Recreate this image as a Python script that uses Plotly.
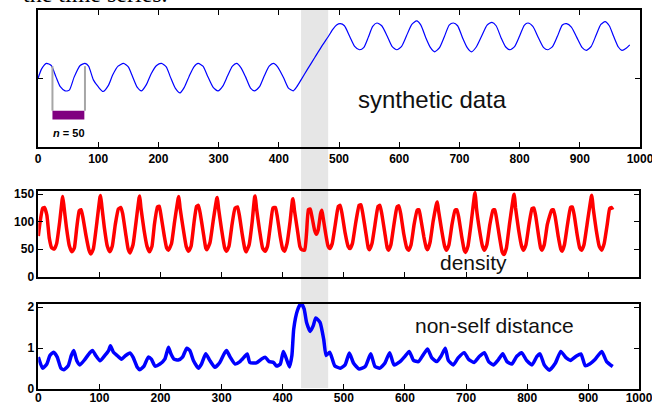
import plotly.graph_objects as go

# ---------------- data ----------------
syn_x = [0, 6, 14, 22, 30, 37, 45, 52, 60, 70, 78, 84, 92, 100, 108, 117, 124, 133, 142, 150,
         157, 165, 172, 180, 188, 197, 205, 213, 220, 228, 236, 243, 251, 259, 266, 274, 282, 291,
         299, 307, 315, 323, 330, 337, 345, 353, 360, 368, 376, 384, 391, 398, 408, 416, 424, 430,
         437, 448, 460, 472, 482, 490, 496, 502, 509, 518, 526, 534, 541, 549, 556, 563, 571, 580,
         588, 596, 604, 612, 621, 629, 636, 644, 652, 659, 667, 675, 683, 690, 697, 705, 713, 720,
         728, 737, 746, 754, 761, 769, 777, 784, 792, 800, 808, 814, 822, 831, 840, 847, 855, 863,
         871, 878, 886, 895, 904, 911, 919, 927, 935, 942, 949, 956, 964, 970, 977, 983]
syn_y = [0.00, 0.14, 0.22, 0.19, 0.02, -0.12, -0.18, -0.17, 0.02, 0.19, 0.22, 0.18, -0.02, -0.12,
         -0.19, -0.10, 0.05, 0.18, 0.22, 0.17, 0.03, -0.13, -0.18, -0.09, 0.07, 0.19, 0.22, 0.17,
         0.02, -0.14, -0.21, -0.13, 0.03, 0.17, 0.22, 0.18, 0.03, -0.13, -0.18, -0.11, 0.04, 0.18,
         0.22, 0.16, 0.02, -0.14, -0.18, -0.12, 0.04, 0.18, 0.22, 0.17, 0.01, -0.14, -0.18, -0.12,
         -0.02, 0.14, 0.31, 0.48, 0.61, 0.72, 0.78, 0.80, 0.77, 0.61, 0.47, 0.42, 0.45, 0.61, 0.76,
         0.81, 0.77, 0.62, 0.47, 0.42, 0.47, 0.62, 0.79, 0.84, 0.78, 0.60, 0.45, 0.39, 0.45, 0.61,
         0.78, 0.81, 0.77, 0.60, 0.45, 0.39, 0.46, 0.62, 0.78, 0.82, 0.77, 0.60, 0.46, 0.42, 0.47,
         0.62, 0.78, 0.81, 0.76, 0.60, 0.45, 0.42, 0.47, 0.62, 0.78, 0.80, 0.75, 0.60, 0.45, 0.41,
         0.47, 0.63, 0.79, 0.83, 0.77, 0.62, 0.46, 0.41, 0.44, 0.49]

den_x = [0, 3, 7, 10, 14, 18, 22, 26, 30, 35, 39, 40, 42, 46, 51, 55, 59, 63, 67, 70, 73, 78, 83,
         86, 90, 96, 101, 102, 104, 108, 113, 117, 121, 126, 131, 135, 138, 143, 147, 150, 155,
         160, 165, 166, 168, 173, 178, 182, 186, 190, 195, 198, 201, 206, 210, 213, 218, 223, 229,
         230, 232, 237, 242, 246, 250, 255, 259, 262, 265, 270, 274, 276, 281, 286, 292, 293, 295,
         300, 305, 308, 312, 317, 322, 326, 329, 334, 338, 340, 345, 350, 354, 355, 357, 362, 367,
         371, 375, 380, 384, 388, 391, 396, 400, 403, 407, 412, 416, 417, 419, 424, 428, 431, 436,
         439, 442, 445, 448, 452, 455, 458, 462, 464, 466, 470, 474, 477, 481, 486, 491, 494, 497,
         502, 507, 510, 514, 519, 525, 528, 531, 536, 540, 542, 546, 551, 556, 559, 562, 567, 571,
         573, 577, 582, 587, 590, 593, 598, 603, 606, 610, 615, 620, 623, 626, 631, 635, 637, 641,
         646, 652, 653, 655, 660, 665, 668, 672, 677, 682, 685, 688, 693, 697, 699, 703, 708, 714,
         715, 717, 722, 727, 730, 734, 739, 744, 747, 750, 755, 759, 762, 766, 771, 778, 779, 781,
         786, 791, 794, 798, 803, 808, 811, 814, 819, 822, 824, 828, 833, 840, 843, 846, 851, 855,
         857, 861, 866, 871, 874, 877, 882, 886, 889, 893, 898, 905, 906, 908, 913, 918, 922, 926,
         931, 935, 938, 940]
den_y = [74, 100, 124, 126, 112, 70, 52, 50, 60, 100, 140, 146, 128, 90, 55, 45, 52, 90, 120, 122,
         108, 75, 48, 41, 50, 100, 145, 148, 128, 90, 55, 45, 55, 95, 123, 126, 115, 78, 50, 43, 58,
         100, 144, 147, 125, 85, 55, 45, 55, 95, 127, 128, 110, 75, 52, 48, 60, 100, 143, 146, 125,
         88, 55, 46, 55, 100, 128, 130, 115, 80, 52, 49, 62, 100, 142, 144, 124, 85, 52, 46, 55, 95,
         125, 127, 112, 75, 50, 45, 58, 100, 145, 147, 125, 85, 52, 46, 55, 95, 125, 126, 110, 72,
         50, 46, 60, 100, 140, 142, 122, 85, 55, 49, 48, 80, 122, 123, 108, 85, 77, 85, 115, 121,
         108, 80, 56, 51, 60, 95, 128, 130, 115, 80, 55, 51, 60, 95, 130, 131, 115, 80, 52, 49, 60,
         95, 128, 130, 115, 80, 52, 48, 58, 95, 127, 129, 115, 78, 52, 48, 58, 95, 121, 122, 105,
         72, 52, 49, 62, 100, 134, 136, 120, 85, 55, 48, 58, 95, 121, 122, 108, 72, 48, 44, 55, 95,
         150, 153, 125, 85, 55, 48, 58, 95, 121, 122, 105, 70, 45, 40, 52, 95, 148, 150, 125, 85,
         55, 48, 58, 95, 124, 125, 110, 72, 52, 48, 58, 95, 121, 122, 108, 72, 50, 46, 58, 95, 126,
         127, 112, 75, 52, 48, 58, 95, 146, 148, 125, 85, 55, 48, 60, 95, 124, 126, 122]

dist_x = [0, 7, 14, 19, 25, 31, 37, 42, 49, 54, 58, 63, 68, 76, 85, 89, 94, 101, 109, 115, 118,
          123, 129, 136, 143, 150, 155, 162, 166, 173, 180, 185, 191, 199, 207, 213, 217, 222, 229,
          236, 243, 248, 254, 262, 267, 274, 281, 289, 297, 304, 308, 314, 322, 330, 338, 342, 346,
          357, 365, 371, 378, 385, 390, 396, 401, 405, 411, 415, 418, 424, 430, 435, 439, 445, 450,
          454, 461, 467, 471, 477, 485, 494, 502, 509, 516, 525, 535, 544, 551, 559, 567, 575, 582,
          592, 600, 607, 614, 622, 630, 637, 644, 652, 659, 666, 671, 679, 687, 697, 704, 713, 722,
          730, 737, 745, 753, 760, 767, 775, 783, 791, 799, 808, 816, 821, 828, 836, 846, 855, 864,
          871, 880, 888, 895, 903, 911, 922, 930, 940]
dist_y = [0.78, 0.51, 0.61, 0.82, 0.90, 0.78, 0.51, 0.47, 0.57, 0.82, 0.94, 0.69, 0.59, 0.72, 0.90,
          0.94, 0.82, 0.69, 0.82, 0.94, 1.06, 0.90, 0.82, 0.73, 0.82, 0.88, 0.78, 0.53, 0.47, 0.56,
          0.78, 0.73, 0.56, 0.61, 0.73, 1.02, 0.86, 0.73, 0.71, 0.78, 1.00, 0.94, 0.69, 0.51, 0.61,
          0.86, 0.69, 0.53, 0.65, 0.86, 0.94, 0.78, 0.61, 0.67, 0.80, 0.86, 0.65, 0.64, 0.73, 0.78,
          0.67, 0.65, 0.56, 0.61, 0.92, 0.78, 0.54, 0.82, 1.47, 1.92, 2.10, 1.96, 1.63, 1.41, 1.55,
          1.74, 1.63, 1.22, 0.82, 0.90, 0.57, 0.51, 0.59, 0.88, 0.63, 0.49, 0.55, 0.86, 0.55, 0.51,
          0.63, 0.89, 0.59, 0.67, 0.80, 0.92, 0.70, 0.67, 0.84, 0.98, 0.76, 0.67, 0.80, 1.00, 0.70,
          0.59, 0.76, 0.89, 0.73, 0.65, 0.80, 0.89, 0.67, 0.59, 0.72, 0.86, 0.67, 0.61, 0.80, 0.89,
          0.70, 0.59, 0.80, 0.86, 0.59, 0.46, 0.63, 0.92, 0.76, 0.70, 0.80, 0.86, 0.57, 0.62, 0.72,
          0.92, 0.67, 0.55]

x_ticks = [0, 100, 200, 300, 400, 500, 600, 700, 800, 900, 1000]
x_ticks_low = [0, 100, 200, 300, 400, 500, 600, 700, 800, 900, 983]
x_tick_text = ["0", "100", "200", "300", "400", "500", "600", "700", "800", "900", "1000"]
den_ticks = [0, 50, 100, 150]
dist_ticks = [0, 1, 2]
band = [437, 482]
window = [24, 78]

# ---------------- figure ----------------
W, H = 652, 404
FONT = "Liberation Sans, Arial, sans-serif"

def px(v):
    return v / W

def py(v):
    return 1 - v / H

fig = go.Figure()
fig.add_trace(go.Scatter(x=syn_x, y=syn_y, mode="lines", xaxis="x", yaxis="y",
                         line=dict(color="#0000ff", width=1.2, shape="spline", smoothing=0.6),
                         showlegend=False, hoverinfo="skip"))
fig.add_trace(go.Scatter(x=den_x, y=den_y, mode="lines", xaxis="x2", yaxis="y2",
                         line=dict(color="#ff0000", width=3.5, shape="spline", smoothing=0.4),
                         showlegend=False, hoverinfo="skip"))
fig.add_trace(go.Scatter(x=dist_x, y=dist_y, mode="lines", xaxis="x3", yaxis="y3",
                         line=dict(color="#0000ff", width=3.5, shape="spline", smoothing=0.5),
                         showlegend=False, hoverinfo="skip"))

tickfont = dict(family=FONT, size=12, color="black", weight="bold")
common_ax = dict(showline=True, linecolor="black", linewidth=1.5, ticks="inside", ticklen=5,
                 tickcolor="black", tickwidth=1, showgrid=False, zeroline=False,
                 tickfont=tickfont, automargin=False, ticklabeloverflow="allow")

fig.update_layout(
    width=W, height=H, autosize=False,
    margin=dict(l=0, r=0, t=0, b=0),
    paper_bgcolor="white", plot_bgcolor="rgba(0,0,0,0)",
    xaxis=dict(domain=[px(38), px(640)], range=[0, 1000], tickvals=x_ticks,
               ticktext=x_tick_text, mirror="ticks", anchor="y", **common_ax),
    yaxis=dict(domain=[py(147), py(10)], range=[-1, 1], tickvals=[0],
               showticklabels=False, mirror="ticks", anchor="x", **common_ax),
    xaxis2=dict(domain=[px(38.3), px(639)], range=[0, 983], tickvals=x_ticks_low[:-1],
                showticklabels=False, mirror=True, anchor="y2", **common_ax),
    yaxis2=dict(domain=[py(276.5), py(191)], range=[0, 156], tickvals=den_ticks,
                mirror="ticks", anchor="x2", **common_ax),
    xaxis3=dict(domain=[px(38.3), px(639)], range=[0, 983], tickvals=x_ticks_low,
                ticktext=x_tick_text, mirror=True, anchor="y3", ticklabelstandoff=-3,
                **common_ax),
    yaxis3=dict(domain=[py(389), py(304)], range=[0, 2.08], tickvals=dist_ticks,
                mirror="ticks", anchor="x3", **common_ax),
)

# grey highlighted band across all panels
fig.add_shape(type="rect", xref="x", yref="paper", x0=band[0], x1=band[1],
              y0=py(388), y1=py(10), fillcolor="#e6e6e6", line=dict(width=0), layer="below")

# n = 50 window marker
for xv in window:
    fig.add_shape(type="line", xref="x", yref="y", x0=xv, x1=xv, y0=0.18, y1=-0.47,
                  line=dict(color="#a6a6a6", width=2))
fig.add_shape(type="rect", xref="x", yref="y", x0=window[0], x1=window[1] - 1,
              y0=-0.47, y1=-0.60, fillcolor="#800080", line=dict(width=0))

fig.add_annotation(x=51, y=-0.80, xref="x", yref="y", text="<i>n</i> = 50", showarrow=False,
                   font=dict(family=FONT, size=11, color="black", weight="bold"))
fig.add_annotation(x=656, y=-0.30, xref="x", yref="y", text="synthetic data", showarrow=False,
                   font=dict(family=FONT, size=24, color="#111111"))
fig.add_annotation(x=712, y=26, xref="x2", yref="y2", text="density", showarrow=False,
                   font=dict(family=FONT, size=21, color="#111111"))
fig.add_annotation(x=747, y=1.55, xref="x3", yref="y3", text="non-self distance", showarrow=False,
                   font=dict(family=FONT, size=21, color="#111111"))
fig.add_annotation(x=px(21), y=py(-6.5), xref="paper", yref="paper", xanchor="left",
                   yanchor="middle", text="the time series.", showarrow=False,
                   font=dict(family="Liberation Serif, serif", size=24, color="black"))

fig.write_html("out.html", config={"displayModeBar": False},
               post_script="document.body.style.margin='0';")
